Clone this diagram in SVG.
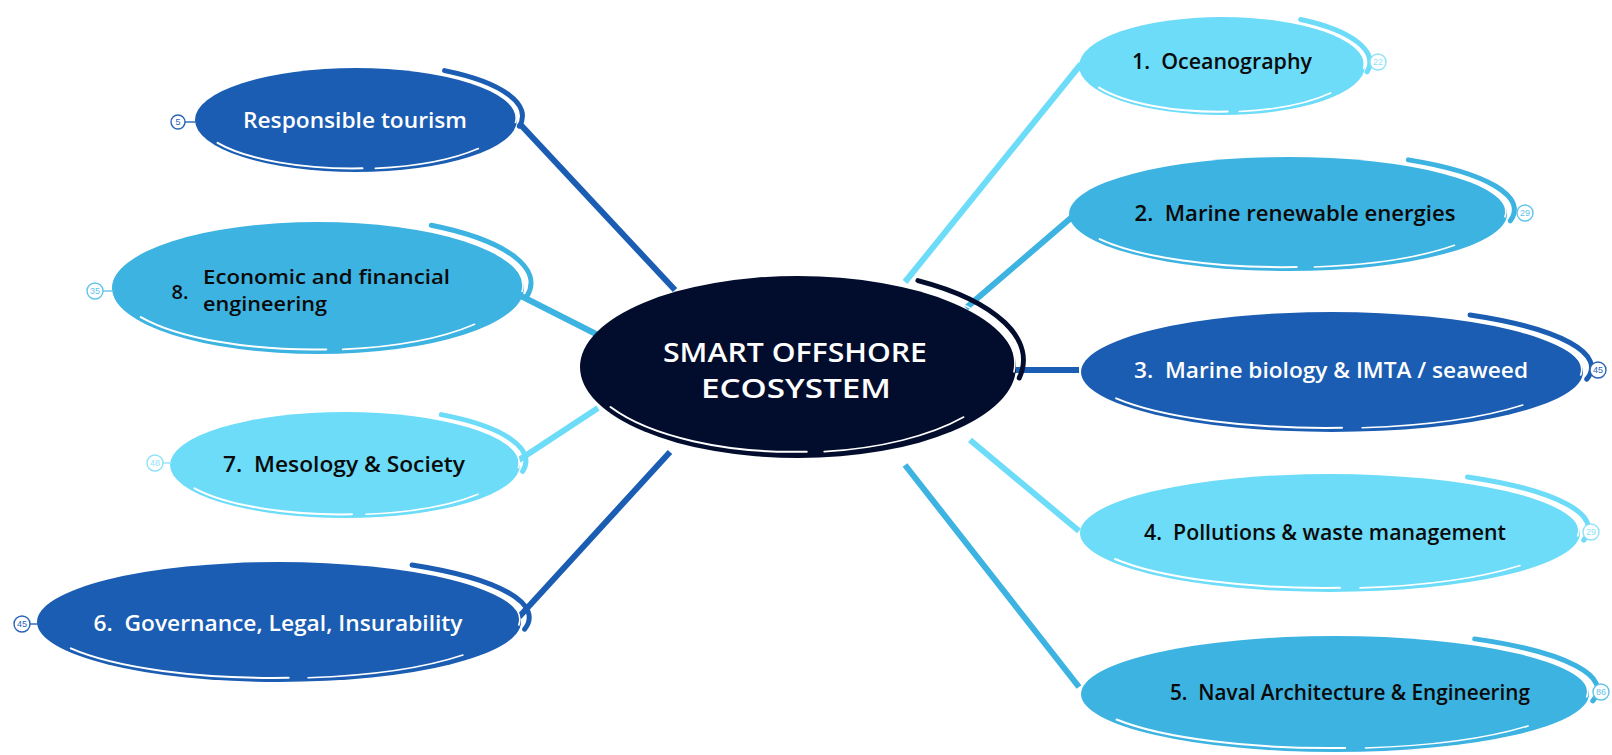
<svg xmlns="http://www.w3.org/2000/svg" xmlns:xlink="http://www.w3.org/1999/xlink" width="1612" height="755" viewBox="0 0 1612 755">
<style>
.lbl{font-family:"Open Sans","Liberation Sans",sans-serif;font-weight:600;font-size:21px;text-anchor:middle}
.sm{font-size:20px}
.dk{fill:#ffffff}
.bk{fill:#0a0a0a}
.ctr{font-family:"Open Sans","Liberation Sans",sans-serif;font-weight:600;font-size:27px;fill:#ffffff;text-anchor:middle}
.con{stroke-width:6;stroke-linecap:butt;fill:none}
.bd circle{fill:#ffffff;stroke-width:1.4}
.bd line{stroke-width:1.4}
.bd text{font-family:"Liberation Sans",sans-serif;font-size:9px;text-anchor:middle}
.cDark{color:#1b5db2}
.cMid{color:#3db3e1}
.cLight{color:#6cdcf9}
.cNavy{color:#020c2c}
</style>
<defs>
<g id="blob">
<ellipse cx="0" cy="0" rx="1" ry="1" fill="currentColor"/>
<path d="M0.55,-0.95 A1.03,1.03 0 0 1 1.015,0.12" fill="none" stroke="currentColor" stroke-width="5" stroke-linecap="round" vector-effect="non-scaling-stroke"/>
<path d="M0.52,-0.89 A1,1 0 0 1 0.99,0.06" fill="none" stroke="#ffffff" stroke-width="1.6" vector-effect="non-scaling-stroke"/>
<path d="M-0.86,0.44 A0.96,0.96 0 0 0 0.04,0.93" fill="none" stroke="#ffffff" stroke-width="2" stroke-linecap="round" vector-effect="non-scaling-stroke"/>
<path d="M0.12,0.93 A0.96,0.96 0 0 0 0.76,0.55" fill="none" stroke="#ffffff" stroke-width="1.6" stroke-linecap="round" vector-effect="non-scaling-stroke"/>
</g>
</defs>
<rect width="1612" height="755" fill="#ffffff"/>
<g id="connectors">
<line class="con" x1="519" y1="123" x2="675" y2="290" stroke="#1b5db2"/>
<line class="con" x1="519" y1="295" x2="598" y2="335" stroke="#3db3e1"/>
<line class="con" x1="519" y1="460" x2="598" y2="408" stroke="#6cdcf9"/>
<line class="con" x1="519" y1="617" x2="670" y2="452" stroke="#1b5db2"/>
<line class="con" x1="1081" y1="64" x2="905" y2="282" stroke="#6cdcf9"/>
<line class="con" x1="1079" y1="211" x2="966" y2="308" stroke="#3db3e1"/>
<line class="con" x1="1079" y1="370" x2="1015" y2="370" stroke="#1b5db2"/>
<line class="con" x1="1079" y1="531" x2="970" y2="440" stroke="#6cdcf9"/>
<line class="con" x1="1079" y1="687" x2="905" y2="465" stroke="#3db3e1"/>
</g>
<g id="center" class="cNavy">
<use xlink:href="#blob" transform="translate(798,367) scale(218,91)"/>
<text class="ctr" x="795" y="362" textLength="264" lengthAdjust="spacingAndGlyphs">SMART OFFSHORE</text>
<text class="ctr" x="796" y="398" textLength="190" lengthAdjust="spacingAndGlyphs">ECOSYSTEM</text>
</g>
<g id="node-tourism" class="cDark">
<use xlink:href="#blob" transform="translate(356,120) scale(161,52)"/>
<text class="lbl dk" x="355" y="128" textLength="224" lengthAdjust="spacingAndGlyphs">Responsible tourism</text>
<g class="bd"><line x1="185" y1="122" x2="197" y2="122" stroke="#2a64b6"/><circle cx="178" cy="122" r="7" stroke="#2a64b6"/><text x="178" y="125" fill="#2a64b6">5</text></g>
</g>
<g id="node-8" class="cMid">
<use xlink:href="#blob" transform="translate(318,288) scale(206,66)"/>
<text class="lbl sm bk" x="180" y="299">8.</text>
<text class="lbl sm bk" x="203" y="284" style="text-anchor:start" textLength="247" lengthAdjust="spacingAndGlyphs">Economic and financial</text>
<text class="lbl sm bk" x="203" y="311" style="text-anchor:start" textLength="124" lengthAdjust="spacingAndGlyphs">engineering</text>
<g class="bd"><line x1="103" y1="291" x2="114" y2="291" stroke="#62c3ea"/><circle cx="95" cy="291" r="8" stroke="#62c3ea"/><text x="95" y="294" fill="#62c3ea">35</text></g>
</g>
<g id="node-7" class="cLight">
<use xlink:href="#blob" transform="translate(345,465) scale(175,53)"/>
<text class="lbl bk" x="344" y="472" textLength="242" lengthAdjust="spacingAndGlyphs">7.&#160; Mesology &amp; Society</text>
<g class="bd"><line x1="163" y1="463" x2="172" y2="463" stroke="#8fe2f8"/><circle cx="155" cy="463" r="8" stroke="#8fe2f8"/><text x="155" y="466" fill="#8fe2f8">48</text></g>
</g>
<g id="node-6" class="cDark">
<use xlink:href="#blob" transform="translate(279,622) scale(242,60)"/>
<text class="lbl dk" x="278" y="631" textLength="369" lengthAdjust="spacingAndGlyphs">6.&#160; Governance, Legal, Insurability</text>
<g class="bd"><line x1="30" y1="624" x2="40" y2="624" stroke="#2a64b6"/><circle cx="22" cy="624" r="8" stroke="#2a64b6"/><text x="22" y="627" fill="#2a64b6">45</text></g>
</g>
<g id="node-1" class="cLight">
<use xlink:href="#blob" transform="translate(1222,66) scale(143,49)"/>
<text class="lbl bk" x="1222" y="69" textLength="180" lengthAdjust="spacingAndGlyphs">1.&#160; Oceanography</text>
<g class="bd"><circle cx="1378" cy="62" r="8" stroke="#8fe2f8"/><text x="1378" y="65" fill="#8fe2f8">22</text></g>
</g>
<g id="node-2" class="cMid">
<use xlink:href="#blob" transform="translate(1288,214) scale(219,57)"/>
<text class="lbl bk" x="1295" y="221" textLength="321" lengthAdjust="spacingAndGlyphs">2.&#160; Marine renewable energies</text>
<g class="bd"><circle cx="1525" cy="213" r="8" stroke="#62c3ea"/><text x="1525" y="216" fill="#62c3ea">29</text></g>
</g>
<g id="node-3" class="cDark">
<use xlink:href="#blob" transform="translate(1332,372) scale(251,60)"/>
<text class="lbl dk" x="1331" y="378" textLength="394" lengthAdjust="spacingAndGlyphs">3.&#160; Marine biology &amp; IMTA / seaweed</text>
<g class="bd"><circle cx="1598" cy="370" r="8" stroke="#2a64b6"/><text x="1598" y="373" fill="#2a64b6">45</text></g>
</g>
<g id="node-4" class="cLight">
<use xlink:href="#blob" transform="translate(1330,533) scale(250,59)"/>
<text class="lbl bk" x="1325" y="540" textLength="362" lengthAdjust="spacingAndGlyphs">4.&#160; Pollutions &amp; waste management</text>
<g class="bd"><circle cx="1591" cy="532" r="8" stroke="#8fe2f8"/><text x="1591" y="535" fill="#8fe2f8">29</text></g>
</g>
<g id="node-5" class="cMid">
<use xlink:href="#blob" transform="translate(1335,694) scale(254,58)"/>
<text class="lbl bk" x="1350" y="700" textLength="360" lengthAdjust="spacingAndGlyphs">5.&#160; Naval Architecture &amp; Engineering</text>
<g class="bd"><circle cx="1601" cy="692" r="8" stroke="#62c3ea"/><text x="1601" y="695" fill="#62c3ea">86</text></g>
</g>
</svg>
